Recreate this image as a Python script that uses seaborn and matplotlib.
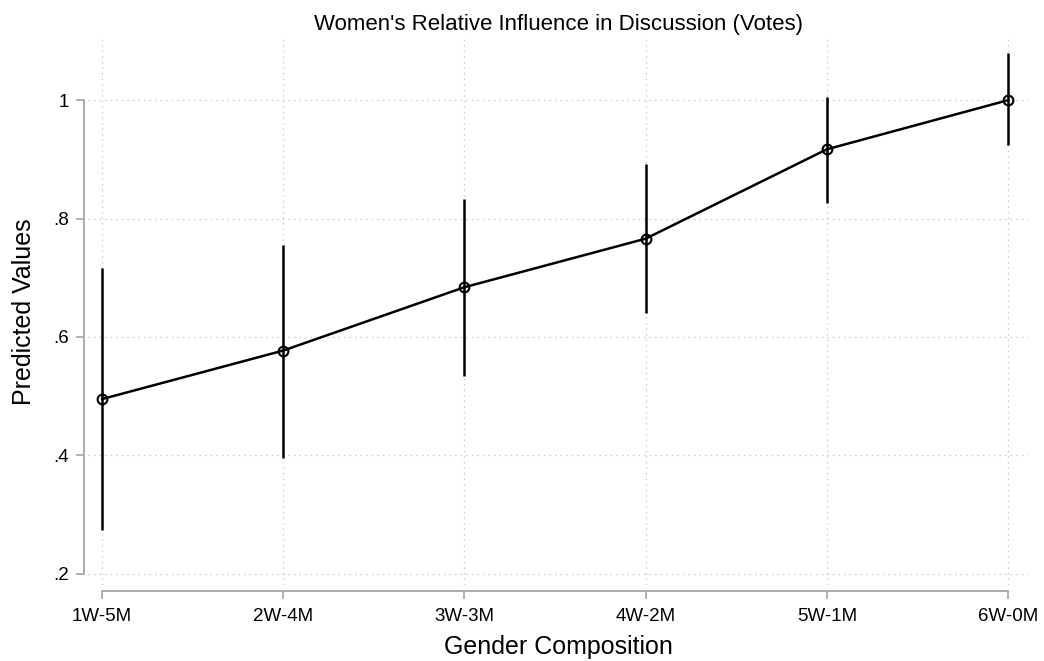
import numpy as np
import pandas as pd
import matplotlib
matplotlib.use("Agg")
import matplotlib.pyplot as plt
import seaborn as sns

# data
groups = ["1W-5M", "2W-4M", "3W-3M", "4W-2M", "5W-1M", "6W-0M"]
predicted = [0.495, 0.577, 0.684, 0.766, 0.917, 1.000]
ci_low = [0.274, 0.396, 0.534, 0.640, 0.826, 0.925]
ci_high = [0.716, 0.756, 0.833, 0.893, 1.006, 1.079]
yticks = [0.2, 0.4, 0.6, 0.8, 1.0]
ytick_labels = [".2", ".4", ".6", ".8", "1"]

df = pd.DataFrame({"pos": np.arange(len(groups)), "group": groups,
                   "pred": predicted, "lo": ci_low, "hi": ci_high})

sns.set_style("white")
plt.rcParams["font.family"] = ["Liberation Sans", "DejaVu Sans"]
plt.rcParams["text.color"] = "black"
plt.rcParams["axes.labelcolor"] = "black"

fig = plt.figure(figsize=(10.44, 6.61), dpi=100)
ax = fig.add_axes([0.0843, 0.115, 0.9004, 0.8275])

# confidence intervals
ax.vlines(df["pos"], df["lo"], df["hi"], color="black", linewidth=1.8, zorder=2)

sns.lineplot(data=df, x="pos", y="pred", ax=ax, color="black", linewidth=1.8,
             marker="o", markersize=7, markerfacecolor="none",
             markeredgecolor="black", markeredgewidth=1.5, zorder=3)

ax.set_xlim(-0.077, 5.11)
ax.set_ylim(0.181, 1.105)
ax.set_xticks(df["pos"])
ax.set_xticklabels(groups)
ax.set_yticks(yticks)
ax.set_yticklabels(ytick_labels)

ax.grid(True, linestyle=(0, (1, 3)), color="#c8c8c8", linewidth=1.0)
ax.set_axisbelow(True)

for side in ["top", "right"]:
    ax.spines[side].set_visible(False)
ax.spines["left"].set_position(("outward", 3))
ax.spines["bottom"].set_position(("outward", 4))
ax.spines["left"].set_bounds(0.2, 1.0)
ax.spines["bottom"].set_bounds(0, 5)
for side in ["left", "bottom"]:
    ax.spines[side].set_color("#a6a6a6")
    ax.spines[side].set_linewidth(1.3)
ax.tick_params(axis="both", which="both", length=6, width=1.2, color="#a6a6a6",
               direction="out", left=True, bottom=True, labelsize=13.5,
               labelcolor="black")
ax.tick_params(axis="x", pad=6.5)
ax.tick_params(axis="y", pad=5)

ax.set_xlabel("Gender Composition", fontsize=18, labelpad=7)
ax.set_ylabel("Predicted Values", fontsize=18, labelpad=12)
ax.set_title("Women's Relative Influence in Discussion (Votes)", fontsize=16, pad=6)

fig.savefig("out.png", dpi=100)
